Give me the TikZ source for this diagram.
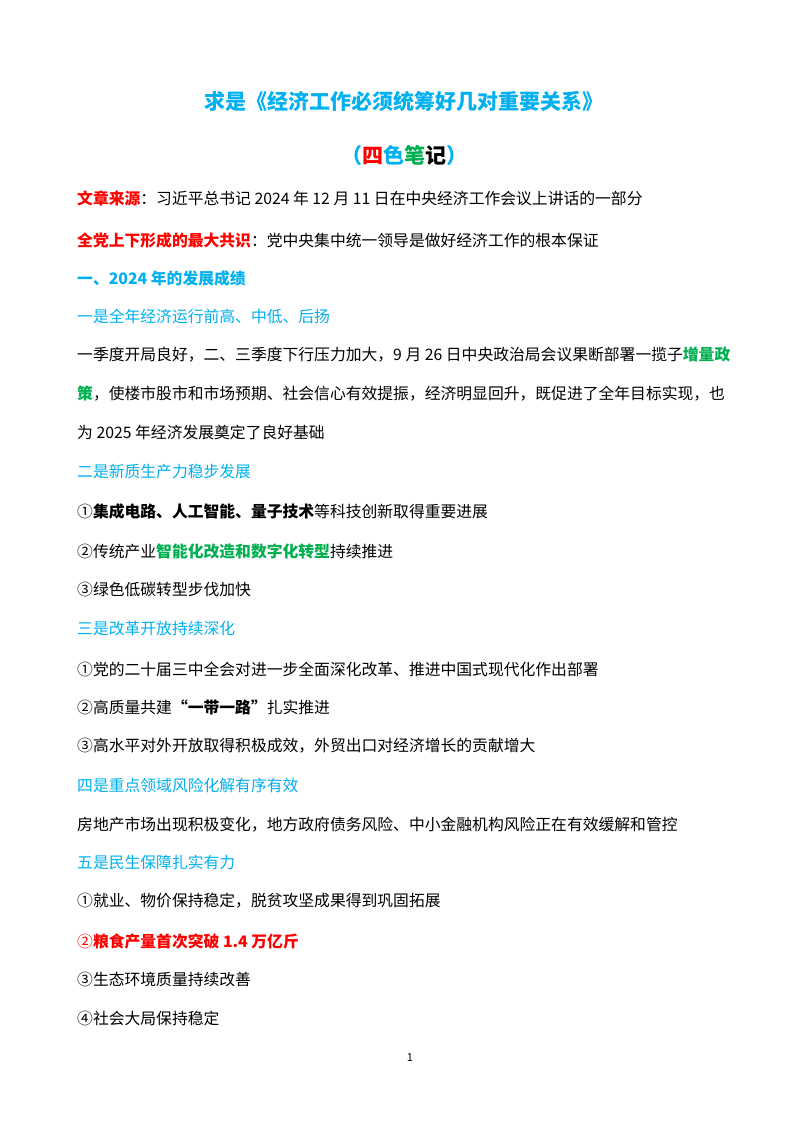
\documentclass[tikz,border=0pt]{standalone}
\usepackage{fontspec}
\setmainfont{Noto Sans CJK SC}
\definecolor{bl}{HTML}{00B0F0}
\definecolor{rd}{HTML}{FF0000}
\definecolor{gn}{HTML}{00B050}
\begin{document}
\begin{tikzpicture}[x=1pt,y=-1pt,
 t/.style={anchor=west,inner sep=0pt,font=\fontsize{15.8}{18}\selectfont},
 h/.style={t,text=bl}]
\useasboundingbox[fill=white] (0,0) rectangle (800,1132);
\node[font=\fontsize{21}{24}\selectfont\bfseries,text=bl,inner sep=0pt] (title) at (404,101) {求是《经济工作必须统筹好几对重要关系》};
\node[font=\fontsize{21}{24}\selectfont\bfseries,inner sep=0pt] (sub) at (404,155) {\textcolor{bl}{（}\textcolor{rd}{四}\textcolor{bl}{色}\textcolor{gn}{笔}记\textcolor{bl}{）}};
\node[t] (l1) at (77,198) {\textbf{\textcolor{rd}{文章来源}}：习近平总书记 2024 年 12 月 11 日在中央经济工作会议上讲话的一部分};
\node[t] (l2) at (77,240) {\textbf{\textcolor{rd}{全党上下形成的最大共识}}：党中央集中统一领导是做好经济工作的根本保证};
\node[h,font=\fontsize{15.8}{18}\selectfont\bfseries] (l3) at (77,278) {一、2024 年的发展成绩};
\node[h] (l4) at (77,316) {一是全年经济运行前高、中低、后扬};
\node[t] (l5) at (77,355) {一季度开局良好，二、三季度下行压力加大，9 月 26 日中央政治局会议果断部署一揽子\textbf{\textcolor{gn}{增量政}}};
\node[t] (l6) at (77,394) {\textbf{\textcolor{gn}{策}}，使楼市股市和市场预期、社会信心有效提振，经济明显回升，既促进了全年目标实现，也};
\node[t] (l7) at (77,432) {为 2025 年经济发展奠定了良好基础};
\node[h] (l8) at (77,472) {二是新质生产力稳步发展};
\node[t] (l9) at (77,511) {①\textbf{集成电路、人工智能、量子技术}等科技创新取得重要进展};
\node[t] (l10) at (77,551) {②传统产业\textbf{\textcolor{gn}{智能化改造和数字化转型}}持续推进};
\node[t] (l11) at (77,589) {③绿色低碳转型步伐加快};
\node[h] (l12) at (77,629) {三是改革开放持续深化};
\node[t] (l13) at (77,669) {①党的二十届三中全会对进一步全面深化改革、推进中国式现代化作出部署};
\node[t] (l14) at (77,707) {②高质量共建\textbf{“一带一路”}扎实推进};
\node[t] (l15) at (77,746) {③高水平对外开放取得积极成效，外贸出口对经济增长的贡献增大};
\node[h] (l16) at (77,785) {四是重点领域风险化解有序有效};
\node[t] (l17) at (77,825) {房地产市场出现积极变化，地方政府债务风险、中小金融机构风险正在有效缓解和管控};
\node[h] (l18) at (77,862) {五是民生保障扎实有力};
\node[t] (l19) at (77,901) {①就业、物价保持稳定，脱贫攻坚成果得到巩固拓展};
\node[t] (l20) at (77,941) {\textcolor{rd}{②\textbf{粮食产量首次突破 1.4 万亿斤}}};
\node[t] (l21) at (77,979) {③生态环境质量持续改善};
\node[t] (l22) at (77,1018) {④社会大局保持稳定};
\node[inner sep=0pt,font=\fontsize{11}{13}\selectfont] (pg) at (410,1058) {1};
\end{tikzpicture}
\end{document}
